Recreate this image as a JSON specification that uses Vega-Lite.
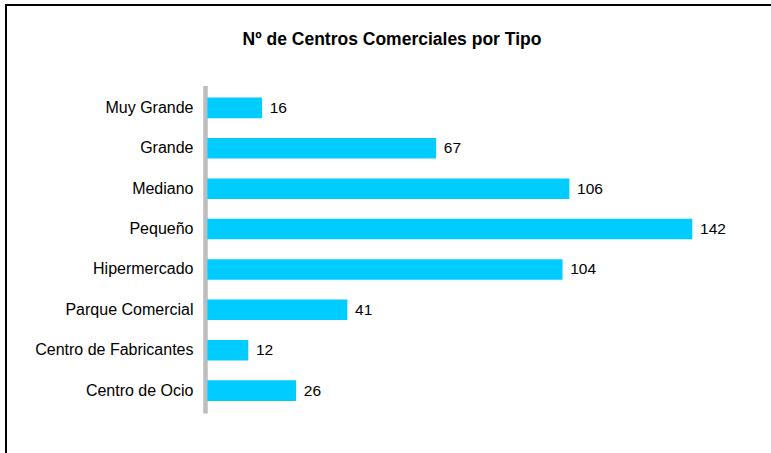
{
  "$schema": "https://vega.github.io/schema/vega-lite/v6.json",
  "width": 780,
  "height": 460,
  "autosize": {"type": "none"},
  "padding": {"left": 6, "top": 5, "right": -15, "bottom": -12},
  "background": "white",
  "config": {
    "view": {"stroke": "#000000", "strokeWidth": 2},
    "font": "Liberation Sans"
  },
  "title": {
    "text": "Nº de Centros Comerciales por Tipo",
    "font": "Liberation Sans",
    "fontSize": 17.5,
    "fontWeight": "bold",
    "color": "#000000",
    "anchor": "middle",
    "frame": "group",
    "baseline": "alphabetic",
    "offset": -57,
    "dx": -4
  },
  "data": {
    "values": [
      {"tipo": "Muy Grande", "n": 16},
      {"tipo": "Grande", "n": 67},
      {"tipo": "Mediano", "n": 106},
      {"tipo": "Pequeño", "n": 142},
      {"tipo": "Hipermercado", "n": 104},
      {"tipo": "Parque Comercial", "n": 41},
      {"tipo": "Centro de Fabricantes", "n": 12},
      {"tipo": "Centro de Ocio", "n": 26}
    ]
  },
  "encoding": {
    "y": {
      "field": "tipo",
      "type": "nominal",
      "sort": null,
      "scale": {"range": [80.5, 408], "paddingInner": 0.49, "paddingOuter": 0.3},
      "axis": {
        "title": null,
        "offset": -199,
        "ticks": false,
        "grid": false,
        "labelPadding": 12,
        "labelFont": "Liberation Sans",
        "labelFontSize": 16,
        "labelColor": "#000000",
        "domainColor": "#bdbdbd",
        "domainWidth": 4.5
      }
    },
    "x": {
      "field": "n",
      "type": "quantitative",
      "scale": {"domain": [-58.94, 169.43], "nice": false, "zero": false},
      "axis": null
    }
  },
  "layer": [
    {"mark": {"type": "bar", "color": "#00CCFF"}},
    {
      "mark": {"type": "text", "align": "left", "baseline": "middle", "dx": 7.7, "fontSize": 15.5, "font": "Liberation Sans", "color": "#000000"},
      "encoding": {"text": {"field": "n", "type": "quantitative"}}
    }
  ]
}
